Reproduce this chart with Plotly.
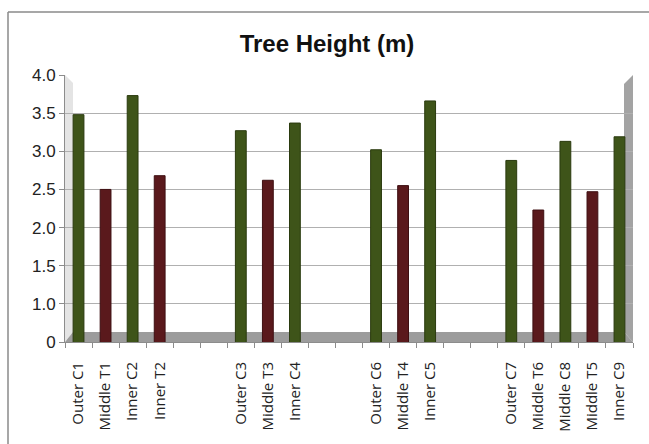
import plotly.graph_objects as go

# ---- data ----
categories = ["Outer C1", "Middle T1", "Inner C2", "Inner T2", " ", "  ",
              "Outer C3", "Middle T3", "Inner C4", "   ", "    ",
              "Outer C6", "Middle T4", "Inner C5", "     ", "      ",
              "Outer C7", "Middle T6", "Middle C8", "Middle T5", "Inner C9"]
heights = [3.48, 2.50, 3.73, 2.68, None, None,
           3.27, 2.62, 3.37, None, None,
           3.02, 2.55, 3.66, None, None,
           2.88, 2.23, 3.13, 2.47, 3.19]
groups = ["C", "T", "C", "T", "", "",
          "C", "T", "C", "", "",
          "C", "T", "C", "", "",
          "C", "T", "C", "T", "C"]
y_tickvals = [0.5, 1.0, 1.5, 2.0, 2.5, 3.0, 3.5, 4.0]
y_ticktext = ["0", "1.0", "1.5", "2.0", "2.5", "3.0", "3.5", "4.0"]
title = "Tree Height (m)"

# ---- styles ----
W, H = 649, 444
L, R, T, B = 65, 633, 75, 342   # plot area in pixels
fill = {"C": "#3e5419", "T": "#5a191c", "": "#000000"}
edge = {"C": "#2a3a0e", "T": "#3e0f12", "": "#000000"}

def px(x):
    return (x - L) / (R - L)

def py(y):
    return (B - y) / (B - T)

fig = go.Figure()
fig.add_trace(go.Bar(
    x=categories, y=heights,
    marker=dict(color=[fill[g] for g in groups],
                line=dict(color=[edge[g] for g in groups], width=1)),
    width=0.4, base=0, hoverinfo="x+y",
))

def poly(points, color):
    path = "M " + " L ".join(f"{px(a):.5f},{py(b):.5f}" for a, b in points) + " Z"
    return dict(type="path", xref="paper", yref="paper", path=path,
                fillcolor=color, line=dict(width=0), layer="below")

shapes = [
    # left wall
    poly([(65, 75), (73, 83), (73, 332), (65, 342)], "#e4e4e4"),
    # right wall
    poly([(633, 75), (624, 84), (624, 332), (633, 342)], "#a3a3a3"),
    # floor
    poly([(65, 342), (633, 342), (624, 332), (73, 332)], "#9c9c9c"),
    # outer frame
    dict(type="line", xref="paper", yref="paper",
         x0=px(8), x1=px(8), y0=py(444), y1=py(12),
         line=dict(color="#8a8a8a", width=1.5), layer="above"),
    dict(type="line", xref="paper", yref="paper",
         x0=px(8), x1=px(660), y0=py(12), y1=py(12),
         line=dict(color="#8a8a8a", width=1.5), layer="above"),
]

fig.update_layout(
    width=W, height=H,
    margin=dict(l=L, r=W - R, t=T, b=H - B),
    paper_bgcolor="white", plot_bgcolor="rgba(0,0,0,0)",
    showlegend=False,
    shapes=shapes,
    title=dict(text="<b>" + title + "</b>", x=327 / W, xref="container",
               y=1 - 44 / H, yref="container", yanchor="middle", xanchor="center",
               font=dict(family="Liberation Sans, Arial", size=24, color="#111")),
    xaxis=dict(type="category", categoryorder="array", categoryarray=categories,
               range=[-0.5, len(categories) - 0.5],
               showline=True, linecolor="#8c8c8c", linewidth=1,
               ticks="outside", tickson="boundaries", ticklen=5, tickcolor="#8c8c8c",
               tickangle=-90, showgrid=False,
               tickfont=dict(family="Open Sans", size=15, color="#222"),
               ticklabelstandoff=13),
    yaxis=dict(range=[0.5, 4.0], tickvals=y_tickvals, ticktext=y_ticktext,
               showgrid=True, gridcolor="#b0b0b0", gridwidth=1,
               showline=True, linecolor="#8c8c8c", linewidth=1,
               ticks="outside", ticklen=5, tickcolor="#8c8c8c",
               zeroline=False,
               tickfont=dict(family="Liberation Sans, Arial", size=17, color="#222")),
    bargap=0.6,
)

fig.write_html("out.html")
